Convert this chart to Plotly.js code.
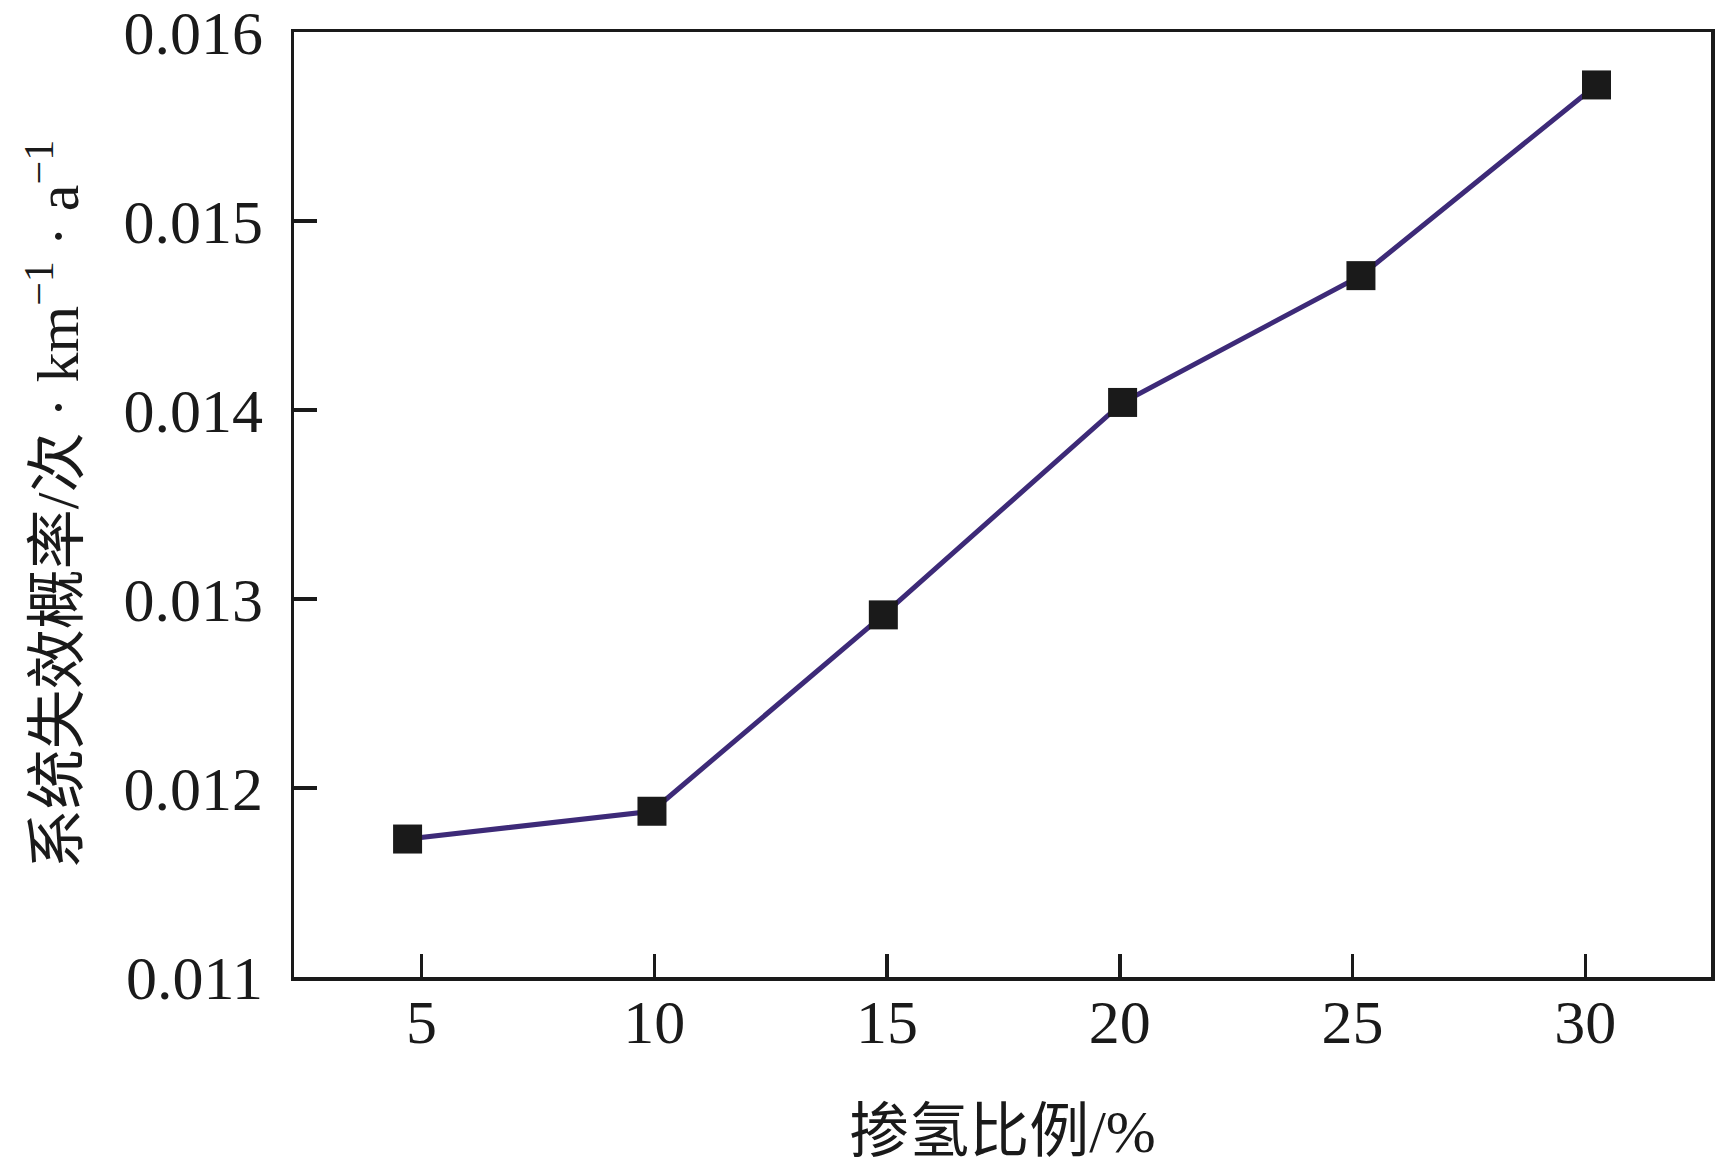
<!DOCTYPE html>
<html>
<head>
<meta charset="utf-8">
<script src="https://cdn.plot.ly/plotly-3.0.1.min.js"></script>
<style>html,body{margin:0;padding:0;background:#fff;}#chart{width:1715px;height:1168px;}</style>
</head>
<body>
<div id="chart"></div>
<script>
// Data
const hydrogenRatio = [4.7, 9.95, 14.92, 20.06, 25.18, 30.24];
const failureProb = [0.01173, 0.011877, 0.012916, 0.01404, 0.014711, 0.01572];
const xTickVals = [5, 10, 15, 20, 25, 30];
const xTickText = ['5', '10', '15', '20', '25', '30'];
const yTickVals = [0.011, 0.012, 0.013, 0.014, 0.015, 0.016];
const yTickText = ['0.011', '0.012', '0.013', '0.014', '0.015', '0.016'];
const xTitle = '掺氢比例/%';
const yTitle = '系统失效概率/次 · km<sup>−1</sup> · a<sup>−1</sup>';

const FONT = 'Liberation Serif, Noto Sans CJK SC, serif';

const trace = {
  x: hydrogenRatio,
  y: failureProb,
  type: 'scatter',
  mode: 'lines+markers',
  line: {color: '#3d2a78', width: 5},
  marker: {symbol: 'square', size: 29, color: '#1a1a1a', line: {width: 0}},
  showlegend: false,
  hoverinfo: 'x+y'
};

const axisCommon = {
  showline: true,
  linecolor: '#1a1a1a',
  linewidth: 3.5,
  mirror: true,
  ticks: 'inside',
  tickwidth: 3.5,
  ticklen: 23,
  tickcolor: '#1a1a1a',
  showgrid: false,
  zeroline: false,
  ticklabeloverflow: 'allow',
  tickfont: {family: FONT, size: 62, color: '#1a1a1a'}
};

const layout = {
  width: 1715,
  height: 1168,
  paper_bgcolor: '#ffffff',
  plot_bgcolor: '#ffffff',
  margin: {l: 294, r: 4, t: 32, b: 191},
  font: {family: FONT, color: '#1a1a1a'},
  xaxis: Object.assign({}, axisCommon, {
    range: [2.26, 32.7],
    tickmode: 'array',
    tickvals: xTickVals,
    ticktext: xTickText,
    ticklabelstandoff: -12,
    title: {text: xTitle, font: {family: FONT, size: 60, color: '#1a1a1a'}, standoff: 56}
  }),
  yaxis: Object.assign({}, axisCommon, {
    range: [0.011, 0.0160001],
    tickmode: 'array',
    tickvals: yTickVals,
    ticktext: yTickText,
    ticklabelstandoff: 15,
    title: {text: yTitle, font: {family: FONT, size: 60, color: '#1a1a1a'}, standoff: 26}
  })
};

Plotly.newPlot('chart', [trace], layout, {displayModeBar: false, staticPlot: true});
</script>
</body>
</html>
